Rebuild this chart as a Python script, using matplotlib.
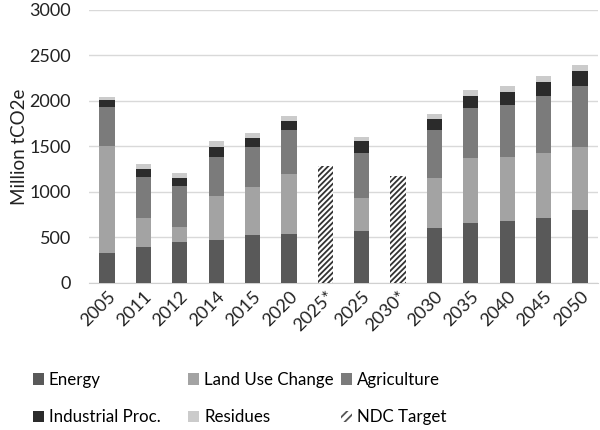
import numpy as np
import matplotlib.pyplot as plt
from matplotlib.patches import Patch

plt.rcParams['font.family'] = ['Lato', 'DejaVu Sans']
plt.rcParams['hatch.linewidth'] = 1.3

categories = ['2005', '2011', '2012', '2014', '2015', '2020', '2025*',
              '2025', '2030*', '2030', '2035', '2040', '2045', '2050']
energy = [330, 400, 447, 473, 524, 535, 0, 571, 0, 608, 656, 681, 718, 802]
land_use = [1175, 318, 172, 486, 534, 659, 0, 363, 0, 549, 718, 704, 714, 696]
agriculture = [425, 450, 450, 426, 437, 487, 0, 498, 0, 520, 545, 567, 619, 663]
industrial = [80, 80, 85, 110, 98, 103, 0, 125, 0, 122, 132, 150, 161, 173]
residues = [30, 55, 50, 62, 59, 51, 0, 47, 0, 62, 66, 63, 63, 58]
ndc_labels = ['2025*', '2030*']
ndc_values = [1290, 1170]

series = [
    ('Energy', energy, '#595959'),
    ('Land Use Change', land_use, '#a3a3a3'),
    ('Agriculture', agriculture, '#7b7b7b'),
    ('Industrial Proc.', industrial, '#2b2b2b'),
    ('Residues', residues, '#cbcbcb'),
]

fig = plt.figure(figsize=(6, 4.3), dpi=100)
ax = fig.add_axes([0.148, 0.342, 0.849, 0.635])

x = np.arange(len(categories))
width = 0.42
bottom = np.zeros(len(categories))
handles = {}
for name, vals, color in series:
    vals = np.array(vals, dtype=float)
    ax.bar(x, vals, width, bottom=bottom, color=color, linewidth=0, zorder=3)
    bottom += vals
    handles[name] = Patch(facecolor=color, label=name)

ndc_x = [categories.index(c) for c in ndc_labels]
ax.bar(ndc_x, ndc_values, width, color='white', edgecolor='#333333',
       hatch='//////', linewidth=0, zorder=3)
handles['NDC Target'] = Patch(facecolor='white', edgecolor='#555555',
                              hatch='////', linewidth=0, label='NDC Target')

ax.set_xlim(-0.5, len(categories) - 0.5)
ax.set_ylim(0, 3000)
ax.set_yticks(np.arange(0, 3001, 500))
ax.yaxis.grid(True, color='#d9d9d9', linewidth=1, zorder=0)
ax.set_axisbelow(True)
for s in ['top', 'right', 'left']:
    ax.spines[s].set_visible(False)
ax.spines['bottom'].set_color('#d0d0d0')
ax.tick_params(axis='both', length=0, labelsize=13, colors='#222222')
ax.tick_params(axis='y', pad=13)
ax.set_xticks(x)
ax.set_xticklabels(categories, rotation=45, ha='right', rotation_mode='anchor')
ax.tick_params(axis='x', pad=4)
ax.set_ylabel('Million tCO2e', fontsize=13.5, color='#222222', labelpad=1)

# legend: three single-column blocks, laid out in rows like the original
columns = [['Energy', 'Industrial Proc.'],
           ['Land Use Change', 'Residues'],
           ['Agriculture', 'NDC Target']]
col_x = [0.043, 0.302, 0.557]
for names, cx in zip(columns, col_x):
    fig.legend([handles[k] for k in names], names, ncol=1, loc='center left',
               bbox_to_anchor=(cx, 0.073), frameon=False, fontsize=12.2,
               handlelength=0.65, handleheight=0.65, handletextpad=0.3,
               labelspacing=1.25, borderaxespad=0)

fig.savefig('out.png', dpi=100)
